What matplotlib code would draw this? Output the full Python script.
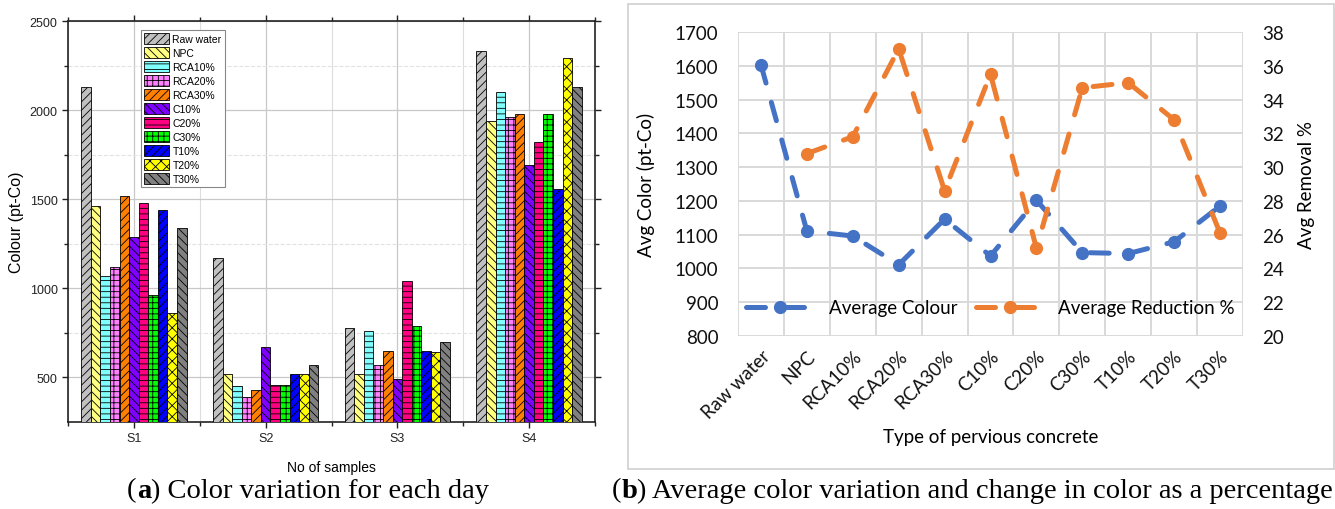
import numpy as np
import matplotlib.pyplot as plt
from matplotlib.patches import Rectangle
from matplotlib.offsetbox import TextArea, HPacker, AnnotationBbox

# left panel data: colour for each sample day
samples = ['S1', 'S2', 'S3', 'S4']
mixes = ['Raw water', 'NPC', 'RCA10%', 'RCA20%', 'RCA30%', 'C10%', 'C20%',
         'C30%', 'T10%', 'T20%', 'T30%']
raw_water = [2130, 1170, 775, 2330]
npc = [1460, 520, 520, 1940]
rca10 = [1070, 450, 760, 2100]
rca20 = [1120, 390, 570, 1960]
rca30 = [1520, 430, 650, 1980]
c10 = [1290, 670, 490, 1690]
c20 = [1480, 460, 1040, 1820]
c30 = [960, 460, 790, 1980]
t10 = [1440, 520, 650, 1560]
t20 = [860, 520, 640, 2290]
t30 = [1340, 570, 700, 2130]

# right panel data: averages
types = ['Raw water', 'NPC', 'RCA10%', 'RCA20%', 'RCA30%', 'C10%', 'C20%',
         'C30%', 'T10%', 'T20%', 'T30%']
avg_colour = [1603, 1111, 1096, 1011, 1146, 1037, 1202, 1047, 1044, 1079, 1185]
avg_reduction = [np.nan, 30.8, 31.8, 37.0, 28.6, 35.5, 25.2, 34.7, 35.0, 32.8, 26.1]

bar_colors = ['#c0c0c0', '#ffff80', '#80ffff', '#ff80ff', '#ff8000', '#8000ff',
              '#ff0080', '#00ff00', '#0000ff', '#ffff00', '#808080']
bar_hatches = ['////', '\\\\\\\\', '---', '+++', '////', '\\\\\\\\', '---', '+++',
               '////', 'xxx', '\\\\\\\\']

plt.rcParams['hatch.linewidth'] = 0.6

W, H = 1335, 510
fig = plt.figure(figsize=(W / 100, H / 100), dpi=100)

# ---- (a) grouped bars ----
ax1 = fig.add_axes([68 / W, 1 - 423 / H, (595 - 68) / W, (423 - 22) / H])
series = [raw_water, npc, rca10, rca20, rca30, c10, c20, c30, t10, t20, t30]
x = np.arange(1, len(samples) + 1)
bw = 0.8 / len(series)
for i, vals in enumerate(series):
    ax1.bar(x - 0.4 + bw * (i + 0.5), vals, bw, color=bar_colors[i],
            hatch=bar_hatches[i], edgecolor='black', linewidth=0.6,
            label=mixes[i], zorder=3)

ax1.set_xlim(0.5, 4.5)
ax1.set_ylim(250, 2500)
ax1.set_xticks(x)
ax1.set_xticklabels(samples)
ax1.set_xticks(np.arange(0.5, 4.6, 1), minor=True)
ax1.set_yticks([500, 1000, 1500, 2000, 2500])
ax1.set_yticks([750, 1250, 1750, 2250], minor=True)
ax1.grid(which='major', color='#c8c8c8', linewidth=0.9, zorder=0)
ax1.grid(which='minor', axis='y', color='#e2e2e2', linewidth=0.8,
         linestyle='--', zorder=0)
ax1.grid(which='minor', axis='x', color='#dddddd', linewidth=0.8, zorder=0)
ax1.tick_params(which='both', top=True, right=True, labelsize=9,
                width=1, length=4, colors='#222222')
ax1.tick_params(which='minor', length=3)
for s in ax1.spines.values():
    s.set_linewidth(1.2)
    s.set_color('#222222')
ax1.set_ylabel('Colour (pt-Co)', fontsize=11.5, family='Liberation Sans', labelpad=4)
ax1.set_xlabel('No of samples', fontsize=10, family='Liberation Sans', labelpad=11)
for lab in ax1.get_xticklabels() + ax1.get_yticklabels():
    lab.set_family('Liberation Sans')
leg1 = ax1.legend(loc='upper left', bbox_to_anchor=(0.129, 0.99),
                  handlelength=2.4, handleheight=1.25, labelspacing=0.28,
                  handletextpad=0.3, borderpad=0.3, fancybox=False,
                  edgecolor='#888888', framealpha=1,
                  prop={'family': 'Liberation Sans', 'size': 7.5})
leg1.get_frame().set_linewidth(0.8)

# ---- (b) averages with twin axis ----
fig.add_artist(Rectangle((628 / W, 1 - 470 / H), (W - 629) / W, 465 / H,
                         transform=fig.transFigure, fill=False,
                         edgecolor='#cfcfcf', linewidth=1.2))

ax2 = fig.add_axes([738 / W, 1 - 337 / H, (1243 - 738) / W, (337 - 33) / H])
ax3 = ax2.twinx()
xi = np.arange(len(types))
blue = '#4472c4'
orange = '#ed7d31'
dash = (0, (3.8, 4.0))
l1, = ax2.plot(xi, avg_colour, color=blue, linewidth=3.6, linestyle=dash,
               dash_capstyle='round', marker='o', markersize=8.5,
               label='Average Colour', zorder=3)
l2, = ax3.plot(xi, avg_reduction, color=orange, linewidth=3.6, linestyle=dash,
               dash_capstyle='round', marker='o', markersize=8.5,
               label='Average Reduction %', zorder=3)

ax2.set_xlim(-0.5, len(types) - 0.5)
ax2.set_ylim(800, 1700)
ax3.set_ylim(20, 38)
ax2.set_yticks(np.arange(800, 1701, 100))
ax3.set_yticks(np.arange(20, 39, 2))
ax2.set_xticks(xi)
ax2.set_xticklabels(types, rotation=45, ha='right', rotation_mode='anchor')
ax2.set_xticks(np.arange(-0.5, len(types)), minor=True)
ax2.grid(which='major', axis='y', color='#d9d9d9', linewidth=1.4, zorder=0)
ax2.grid(which='minor', axis='x', color='#d9d9d9', linewidth=1.4, zorder=0)
for a in (ax2, ax3):
    for s in a.spines.values():
        s.set_visible(False)
    a.tick_params(which='both', length=0, labelsize=13.5, colors='#111111')
ax2.tick_params(axis='y', pad=14)
ax3.tick_params(axis='y', pad=14)
ax2.tick_params(axis='x', pad=8)
for lab in ax2.get_xticklabels() + ax2.get_yticklabels() + ax3.get_yticklabels():
    lab.set_family('Lato')
ax2.set_ylabel('Avg Color (pt-Co)', fontsize=13.5, family='Lato', labelpad=14)
ax3.set_ylabel('Avg Removal %', fontsize=13.5, family='Lato', labelpad=10)
ax2.set_xlabel('Type of pervious concrete', fontsize=13.5, family='Lato', labelpad=5)
ax3.legend([l1, l2], ['Average Colour', 'Average Reduction %'], loc='lower center',
           bbox_to_anchor=(0.5, 0.01), ncol=2, frameon=False, handlelength=3.6,
           columnspacing=1.0, handletextpad=0.8,
           prop={'family': 'Lato', 'size': 13.5})

# ---- captions ----
def caption(letter, rest, xy, align):
    box = HPacker(children=[
        TextArea('(', textprops=dict(family='Liberation Serif', size=20.5)),
        TextArea(letter, textprops=dict(family='Liberation Serif', size=20.5,
                                        weight='bold')),
        TextArea(') ' + rest, textprops=dict(family='Liberation Serif', size=20.5)),
    ], pad=0, sep=0, align='baseline')
    fig.add_artist(AnnotationBbox(box, xy, xycoords='figure fraction',
                                  frameon=False, box_alignment=align))

caption('a', 'Color variation for each day', (308 / W, 1 - 491 / H), (0.5, 0.5))
caption('b', 'Average color variation and change in color as a percentage',
        (612 / W, 1 - 491 / H), (0, 0.5))

fig.savefig('out.png', dpi=100)
